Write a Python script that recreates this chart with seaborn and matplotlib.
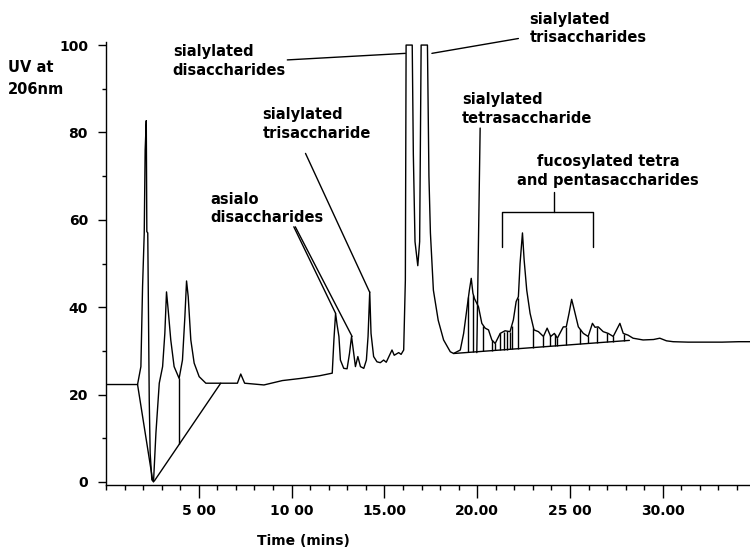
import numpy as np
import pandas as pd
import seaborn as sns
import matplotlib.pyplot as plt
from matplotlib.ticker import MultipleLocator

sns.set_theme(style="ticks", rc={"axes.edgecolor": "black", "xtick.color": "black",
                                 "ytick.color": "black", "text.color": "black"})
plt.rcParams["font.family"] = ["DejaVu Sans"]
plt.rcParams["font.weight"] = "bold"

# chromatogram trace (time in min, UV response)
time = [0.0, 1.70, 1.88, 1.97, 2.06, 2.11, 2.17, 2.20, 2.25, 2.33, 2.38, 2.47, 2.56, 2.69,
        2.87, 3.05, 3.17, 3.26, 3.35, 3.49, 3.67, 3.94, 4.12, 4.25, 4.34, 4.43, 4.57, 4.75,
        5.02, 5.38, 6.18, 7.08, 7.26, 7.47, 8.51, 9.5, 10.5, 11.5, 12.19, 12.28, 12.37,
        12.45, 12.55, 12.63, 12.81, 12.99, 13.12, 13.23, 13.35, 13.44, 13.57, 13.71, 13.89,
        14.03, 14.12, 14.21, 14.28, 14.42, 14.6, 14.78, 14.96, 15.1, 15.41, 15.53, 15.77,
        15.9, 16.04, 16.13, 16.17, 16.5, 16.56, 16.65, 16.8, 16.9, 16.98, 17.32, 17.4,
        17.48, 17.64, 17.9, 18.19, 18.55, 18.73, 19.09, 19.27, 19.44, 19.58, 19.68, 19.77,
        19.85, 20.07, 20.25, 20.43, 20.61, 20.79, 20.97, 21.24, 21.5, 21.77, 21.95, 22.1,
        22.22, 22.31, 22.44, 22.53, 22.67, 22.85, 23.06, 23.3, 23.57, 23.77, 23.96, 24.16,
        24.32, 24.64, 24.8, 24.95, 25.09, 25.23, 25.45, 25.72, 25.98, 26.21, 26.35, 26.52,
        26.79, 27.06, 27.33, 27.69, 27.87, 28.13, 28.4, 28.94, 29.5, 29.84, 30.2, 30.56,
        31.36, 32.3, 33.2, 34.1, 34.7]
signal = [22.3, 22.3, 26.4, 44.7, 56.9, 76, 82.7, 57.3, 57, 18.8, 6.6, 0.5, 0, 11.2,
          22.6, 26.4, 34, 43.5, 39.4, 32.5, 26.4, 23.7, 27.9, 37.8, 46, 42.4, 32.5, 27.2,
          24.1, 22.6, 22.6, 22.6, 24.7, 22.6, 22.2, 23.2, 23.7, 24.3, 24.9, 32.5, 38.6,
          36, 33.3, 27.9, 26, 25.9, 29.4, 33.3, 29.4, 26.4, 28.7, 26.4, 26,
          27.9, 33.3, 43.5, 34, 28.7, 27.5, 27.3, 27.9, 27.4, 30.2, 29, 29.6,
          29.2, 30.2, 46.2, 100, 100, 75, 55, 49.5, 55, 100, 100, 70,
          57, 43.9, 37, 32.5, 29.8, 29.4, 30.2, 34, 39.4, 43.9, 46.6, 43.2,
          42, 40.1, 36.3, 35.2, 34.8, 32.5, 31.7, 34, 34.6, 34.4, 37.1, 41.3,
          42.4, 50, 57, 50.8, 43.9, 38.6, 34.8, 34.4, 33.3, 35.2, 33.3, 34,
          32.9, 35.5, 35.5, 38.6, 41.8, 39.4, 35.5, 34, 33.3, 36.3, 35.4, 35.5,
          34.4, 34, 33.3, 36.3, 34, 33.6, 32.9, 32.5, 32.6, 32.9, 32.3, 32.1,
          32, 32, 32, 32.1, 32.1]
assert len(time) == len(signal), (len(time), len(signal))

# integrator baselines and peak drop lines
base1_t = [1.70, 2.51]
base1_v = [22.3, 0.5]
base2_t = [2.60, 6.18]
base2_v = [0.2, 22.6]
base3_t = [18.73, 28.2]
base3_v = [29.4, 32.4]
drop2_t = [3.94]
drop3_t = [19.53, 19.8, 20.34, 20.79, 20.97, 21.24, 21.42, 21.59, 21.77, 21.86, 22.18,
           23.03, 23.57, 23.92, 24.19, 24.32, 24.78, 25.54, 25.98, 26.43, 26.97, 27.33, 27.92]

xtick_vals = [5, 10, 15, 20, 25, 30]
xtick_labels = ["5 00", "10 00", "15.00", "20.00", "25 00", "30.00"]
ytick_vals = [0, 20, 40, 60, 80, 100]

df = pd.DataFrame({"time": time, "signal": signal})

fig = plt.figure(figsize=(7.5, 5.5), dpi=100)
ax = fig.add_axes([106 / 750, 65 / 550, 644 / 750, 443 / 550])

sns.lineplot(data=df, x="time", y="signal", ax=ax, color="black", lw=1.0, sort=False)
ax.plot(base1_t, base1_v, color="black", lw=1.0)
ax.plot(base2_t, base2_v, color="black", lw=1.0)
ax.plot(base3_t, base3_v, color="black", lw=1.0)
ax.vlines(drop2_t, np.interp(drop2_t, base2_t, base2_v), np.interp(drop2_t, time, signal),
          color="black", lw=1.0)
ax.vlines(drop3_t, np.interp(drop3_t, base3_t, base3_v), np.interp(drop3_t, time, signal),
          color="black", lw=1.0)

ax.set_xlim(0, 34.7)
ax.set_ylim(-0.7, 100.7)
sns.despine(ax=ax)
ax.set_xlabel("")
ax.set_ylabel("")
ax.set_xticks(xtick_vals)
ax.set_xticklabels(xtick_labels, fontsize=10, fontweight="bold")
ax.set_yticks(ytick_vals)
ax.set_yticklabels([str(v) for v in ytick_vals], fontsize=10, fontweight="bold")
ax.xaxis.set_minor_locator(MultipleLocator(1))
ax.yaxis.set_minor_locator(MultipleLocator(10))
ax.tick_params(axis="x", which="major", length=9.5, width=1, pad=4)
ax.tick_params(axis="x", which="minor", length=3.5, width=1)
ax.tick_params(axis="y", which="major", length=6, width=1, pad=7)
ax.tick_params(axis="y", which="minor", length=3, width=1)
for s in ax.spines.values():
    s.set_linewidth(1.0)

# annotations
kw = dict(fontsize=10.5, fontweight="bold", va="top", linespacing=1.3)
ax.text(3.6, 100.2, "sialylated\ndisaccharides", ha="left", **kw)
ax.text(5.64, 66.4, "asialo\ndisaccharides", ha="left", **kw)
ax.text(8.42, 85.8, "sialylated\ntrisaccharide", ha="left", **kw)
ax.text(22.81, 107.6, "sialylated\ntrisaccharides", ha="left", **kw)
ax.text(19.18, 89.2, "sialylated\ntetrasaccharide", ha="left", **kw)
ax.text(27.04, 75.0, "fucosylated tetra\nand pentasaccharides", ha="center",
        multialignment="center", **kw)

lk = dict(color="black", lw=1.0, clip_on=False)
ax.plot([9.77, 16.13], [96.6, 98.1], **lk)
ax.plot([10.12, 12.37], [58.4, 38.6], **lk)
ax.plot([10.2, 13.26], [58.4, 33.3], **lk)
ax.plot([10.75, 14.21], [75.2, 43.4], **lk)
ax.plot([17.56, 22.22], [98.1, 101.5], **lk)
ax.plot([20.16, 19.98], [81.0, 29.6], **lk)
ax.plot([24.14, 24.14], [66.4, 61.7], **lk)
ax.plot([21.32, 21.32, 26.26, 26.26], [53.8, 61.7, 61.7, 53.8], **lk)

fig.text(8 / 750, 1 - 60 / 550, "UV at\n206nm", ha="left", va="top", fontsize=10.5,
         fontweight="bold", linespacing=1.55)
fig.text(303 / 750, 1 - 541 / 550, "Time (mins)", ha="center", va="center", fontsize=10,
         fontweight="bold")

fig.savefig("out.png", dpi=100)
